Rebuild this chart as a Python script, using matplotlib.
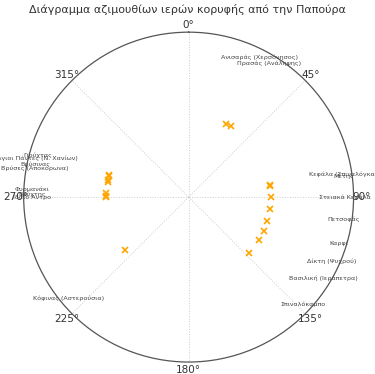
import numpy as np
import matplotlib
matplotlib.use("Agg")
from matplotlib import pyplot as plt

# peak sanctuaries: name, azimuth (deg) seen from Papoura
names = ["Ανισαράς (Χερσόνησος)", "Πρασάς (Ανάληψης)",
         "Κεφάλα (Σπιναλόγκα)", "Μέτης", "Στειακά Κεφάλα", "Πετσοφάς",
         "Καρφί", "Δίκτη (Ψυχρού)", "Βασιλική (Ιεράπετρα)", "Σπιναλόκαμπο",
         "Κόφινας (Αστερούσια)",
         "Ιδαίο Άντρο", "Βρύχτης", "Φυρμανάκι", "Βρύσες (Αποκόρωνα)",
         "Βρύσινας", "Άγιοι Πάντες (Ν. Χανίων)", "Γιούχτας"]
azimuth = [27, 31,
           81.5, 82.5, 90, 98,
           107, 114, 121, 133,
           230,
           270, 271, 273, 280.5,
           282, 284.5, 285.5]
radius = [0.5] * len(names)
label_r = 0.95

fig = plt.figure(figsize=(3.75, 3.74), dpi=100)
ax = fig.add_axes([0.063, 0.032, 0.88, 0.882], projection="polar")
ax.set_theta_zero_location("N")
ax.set_theta_direction(-1)

th = np.deg2rad(azimuth)
ax.plot(th, radius, "x", color="orange", ms=4.5, mew=1.2, ls="none")
for t, n in zip(th, names):
    ax.text(t, label_r, n, fontsize=4.6, color="#444444", ha="center", va="center")

ax.set_ylim(0, 1)
ax.set_yticks([])
ax.set_thetagrids(np.arange(0, 360, 45), [f"{a}°" for a in range(0, 360, 45)],
                  fontsize=7.5, color="#333333")
ax.tick_params(axis="x", pad=-5)
ax.grid(True, color="#cccccc", ls=":", lw=0.7)
ax.spines["polar"].set_color("#555555")
ax.spines["polar"].set_linewidth(0.9)

fig.suptitle("Διάγραμμα αζιμουθίων ιερών κορυφής από την Παπούρα",
             fontsize=8, color="#333333", y=0.99)

fig.savefig("out.png", dpi=100)
